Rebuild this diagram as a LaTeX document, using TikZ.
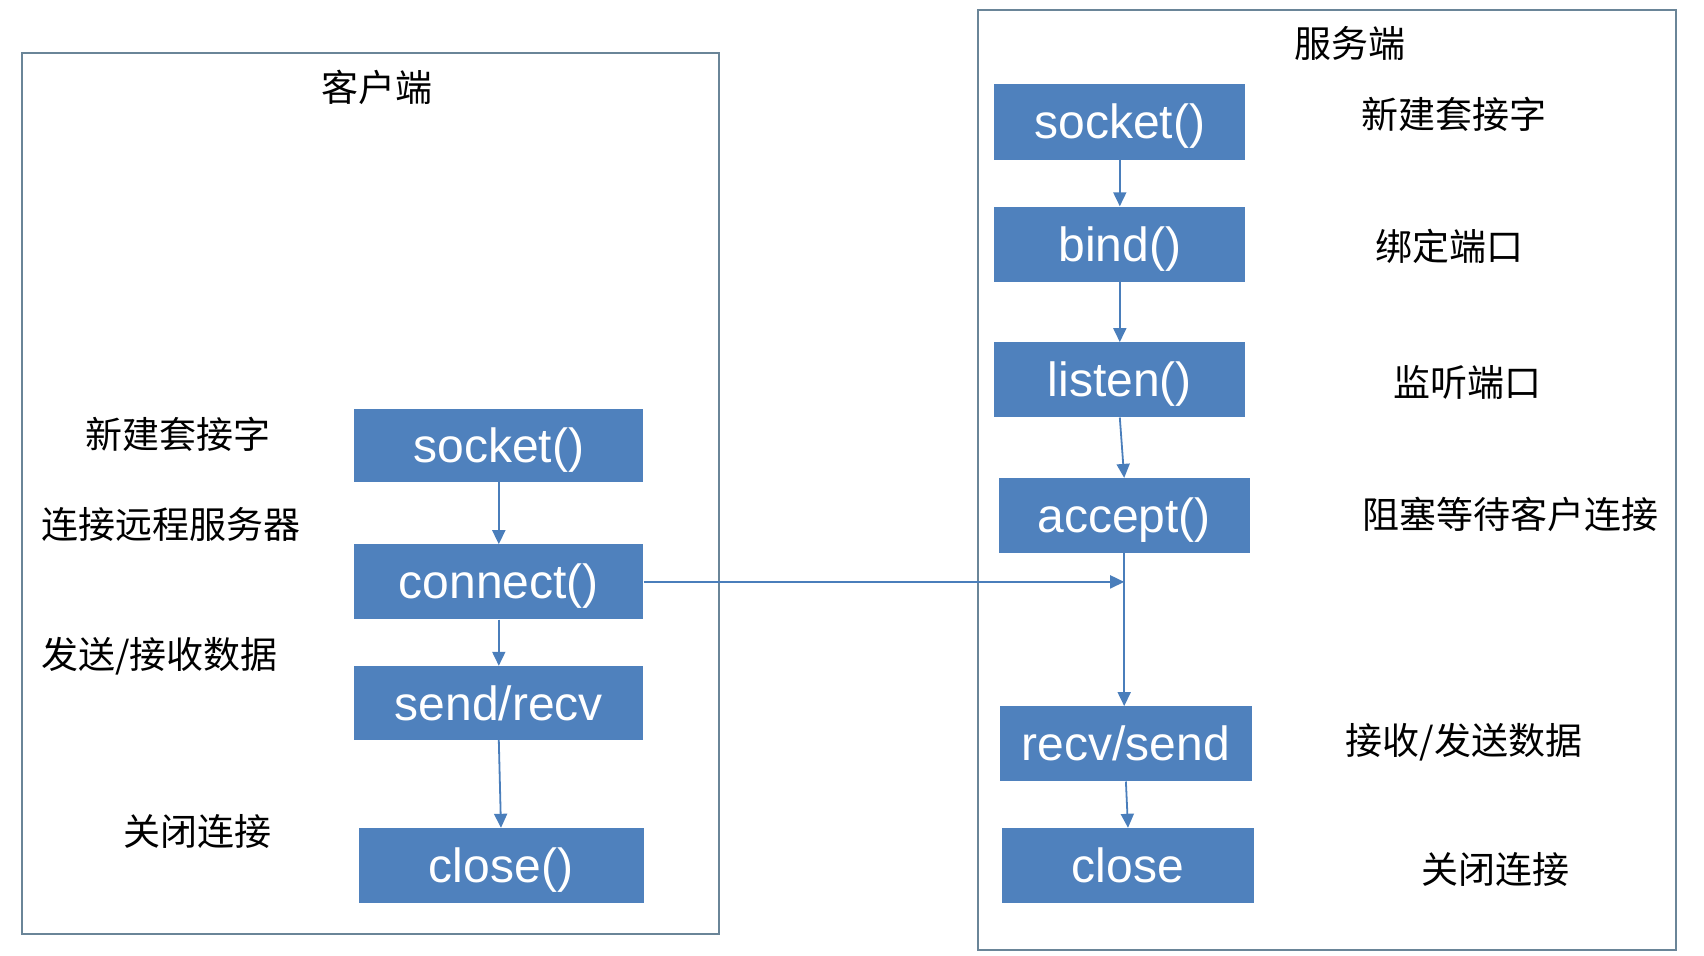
\documentclass[tikz,border=0pt]{standalone}
\usepackage{fontspec}
\setmainfont{Liberation Sans}
\newfontfamily\cjk{Noto Sans CJK SC}
\usetikzlibrary{arrows.meta,calc}
\definecolor{boxblue}{HTML}{4F81BD}
\definecolor{arrowblue}{HTML}{4A7EBB}
\definecolor{framecol}{HTML}{6A8598}
\tikzset{
  fn/.style={rectangle, fill=boxblue, draw=none, inner sep=0pt, text=white,
    text height=40pt, text depth=6pt,
    font=\fontsize{48}{56}\selectfont},
  lbl/.style={inner sep=0pt, text=black, font=\cjk\fontsize{37}{44}\selectfont},
  frame/.style={draw=framecol, line width=2pt},
  flow/.style={draw=arrowblue, line width=1.8pt, -{Triangle[length=14pt,width=13pt]}},
  plain/.style={draw=arrowblue, line width=1.8pt}
}
\begin{document}
\begin{tikzpicture}[x=1pt,y=-1pt]
\useasboundingbox (0,0) rectangle (1704,955);
% frames
\node[frame, rectangle, inner sep=0pt, minimum width=697.7pt, minimum height=880.3pt] (client) at (370.55,493.35) {};
\node[frame, rectangle, inner sep=0pt, minimum width=697.7pt, minimum height=940pt] (server) at (1326.85,479.8) {};
\node[lbl] (ctitle) at (377,87) {客户端};
\node[lbl] (stitle) at (1349.7,43.5) {服务端};
% client boxes
\node[fn, minimum width=289pt, minimum height=73pt] (csocket) at (498.8,445) {socket()};
\node[fn, minimum width=289pt, minimum height=75pt] (cconnect) at (498.8,581.9) {connect()};
\node[fn, minimum width=289pt, minimum height=74pt] (csend) at (498.8,703) {send/recv};
\node[fn, minimum width=285pt, minimum height=75pt] (cclose) at (501,865.5) {close()};
% client labels
\node[lbl] (l1) at (178.2,434.7) {新建套接字};
\node[lbl] (l2) at (170.6,524.9) {连接远程服务器};
\node[lbl] (l3) at (159.7,656.4) {发送/接收数据};
\node[lbl] (l4) at (197.8,831.3) {关闭连接};
% server boxes
\node[fn, minimum width=251pt, minimum height=76pt] (ssocket) at (1119.8,121.7) {socket()};
\node[fn, minimum width=251pt, minimum height=75pt] (sbind) at (1119.8,244) {bind()};
\node[fn, minimum width=251pt, minimum height=75pt] (slisten) at (1119.8,379.8) {listen()};
\node[fn, minimum width=251pt, minimum height=75pt] (saccept) at (1124.2,515.6) {accept()};
\node[fn, minimum width=252pt, minimum height=75pt] (srecv) at (1125.9,743.8) {recv/send};
\node[fn, minimum width=252pt, minimum height=75pt] (sclose) at (1128,865.5) {close};
% server labels
\node[lbl] (r1) at (1454,114.1) {新建套接字};
\node[lbl] (r2) at (1449.6,246.7) {绑定端口};
\node[lbl] (r3) at (1467,382.5) {监听端口};
\node[lbl] (r4) at (1510.5,514) {阻塞等待客户连接};
\node[lbl] (r5) at (1463.8,742.2) {接收/发送数据};
\node[lbl] (r6) at (1495.3,869.4) {关闭连接};
% client arrows
\draw[flow] (csocket.south) -- (cconnect.north);
\draw[flow] (cconnect.south) -- (csend.north);
\draw[flow] (csend.south) -- (cclose.north);
% server arrows
\draw[flow] (ssocket.south) -- (sbind.north);
\draw[flow] (sbind.south) -- (slisten.north);
\draw[flow] (slisten.south) -- (saccept.north);
\draw[flow] (saccept.south) -- (saccept.south |- srecv.north);
\draw[flow] (srecv.south) -- (sclose.north);
% connect to server
\coordinate (join) at (cconnect.east -| saccept.south);
\draw[flow] (cconnect.east) -- (join);
\end{tikzpicture}
\end{document}
